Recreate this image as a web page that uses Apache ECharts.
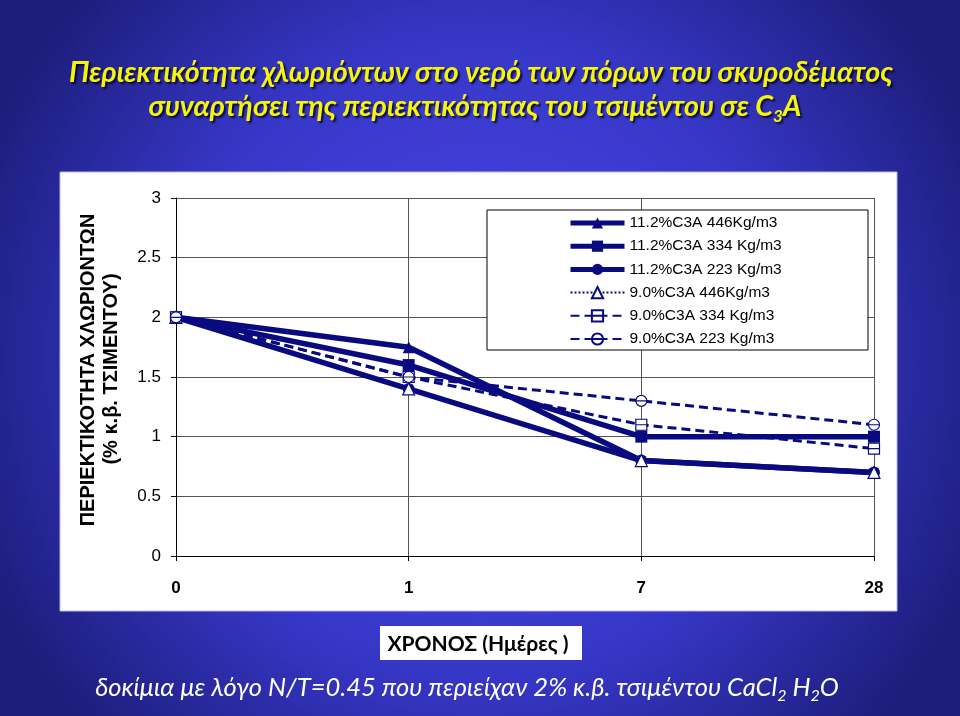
<!DOCTYPE html>
<html>
<head>
<meta charset="utf-8">
<script src="https://cdn.jsdelivr.net/npm/echarts@6/dist/echarts.min.js"></script>
<style>
html,body{margin:0;padding:0;background:#2b2bb0;}
#c{width:960px;height:716px;}
</style>
</head>
<body>
<div id="c"></div>
<script>
const categories = ['0', '1', '7', '28'];
const s112_446 = [2.0, 1.75, 0.8, 0.7];
const s112_334 = [2.0, 1.6, 1.0, 1.0];
const s112_223 = [2.0, 1.4, 0.8, 0.7];
const s90_446 = [2.0, 1.4, 0.8, 0.7];
const s90_334 = [2.0, 1.5, 1.1, 0.9];
const s90_223 = [2.0, 1.5, 1.3, 1.1];
const seriesNames = ['11.2%C3A 446Kg/m3', '11.2%C3A 334 Kg/m3', '11.2%C3A 223 Kg/m3',
  '9.0%C3A 446Kg/m3', '9.0%C3A 334 Kg/m3', '9.0%C3A 223 Kg/m3'];
const yTicks = { min: 0, max: 3, interval: 0.5 };

const navy = '#0a0a80';
const chart = echarts.init(document.getElementById('c'), null, { renderer: 'canvas' });

const sqLine = 'path://M0 0H10V10H0ZM0 5H10';
const circLine = 'path://M0 5A5 5 0 1 1 10 5A5 5 0 1 1 0 5ZM0 5H10';

function solid(name, data, symbol) {
  return {
    name, type: 'line', data, symbol, symbolSize: 12,
    lineStyle: { color: navy, width: 5.5 },
    itemStyle: { color: navy, borderColor: navy, borderWidth: 0 },
    z: 3
  };
}
function open(name, data, symbol, width, dash, size) {
  return {
    name, type: 'line', data, symbol, symbolSize: size,
    lineStyle: { color: navy, width, type: dash },
    itemStyle: { color: '#ffffff', borderColor: navy, borderWidth: 1.2 },
    z: 4
  };
}
const shadow = { textShadowColor: 'rgba(0,0,30,0.8)', textShadowOffsetX: 2, textShadowOffsetY: 2, textShadowBlur: 2 };

const option = {
  animation: false,
  graphic: [
    { type: 'rect', z: -10, silent: true, shape: { x: 0, y: 0, width: 960, height: 716 },
      style: { fill: { type: 'radial', x: 0.5, y: 0.5, r: 0.75,
        colorStops: [{ offset: 0, color: '#4a4aee' }, { offset: 0.6, color: '#3636c6' }, { offset: 1, color: '#1d1d7c' }] } } },
    { type: 'rect', z: -9, silent: true, shape: { x: 60, y: 172, width: 837, height: 439 },
      style: { fill: '#ffffff', stroke: '#b8b8e8', lineWidth: 1 } },
    { type: 'rect', z: 1, silent: true, shape: { x: 487, y: 210, width: 381, height: 140 },
      style: { fill: '#ffffff', stroke: '#000000', lineWidth: 1 } },
    { type: 'text', z: 5, x: 481, y: 73, style: Object.assign({
        text: 'Περιεκτικότητα χλωριόντων στο νερό των πόρων του σκυροδέματος',
        font: 'italic bold 28.7px Lato', fill: '#f4f40c', align: 'center', verticalAlign: 'middle' }, shadow) },
    { type: 'text', z: 5, x: 475, y: 107, style: Object.assign({
        text: '{a|συναρτήσει της περιεκτικότητας του τσιμέντου σε C}{s|3}{a|A}',
        fill: '#f4f40c', align: 'center', verticalAlign: 'middle',
        rich: {
          a: Object.assign({ fontFamily: 'Lato', fontStyle: 'italic', fontWeight: 'bold', fontSize: 28.7, lineHeight: 36, color: '#f4f40c' }, shadow),
          s: Object.assign({ fontFamily: 'Lato', fontStyle: 'italic', fontWeight: 'bold', fontSize: 17, lineHeight: 36, verticalAlign: 'bottom', color: '#f4f40c' }, shadow)
        } }, shadow) },
    { type: 'text', z: 5, x: 88, y: 370, rotation: Math.PI / 2, style: {
        text: 'ΠΕΡΙΕΚΤΙΚΟΤΗΤΑ ΧΛΩΡΙΟΝΤΩΝ', font: 'bold 20px Arial, "Liberation Sans"',
        fill: '#000000', align: 'center', verticalAlign: 'middle' } },
    { type: 'text', z: 5, x: 111, y: 369, rotation: Math.PI / 2, style: {
        text: '(% κ.β. ΤΣΙΜΕΝΤΟΥ)', font: 'bold 20px Arial, "Liberation Sans"',
        fill: '#000000', align: 'center', verticalAlign: 'middle' } },
    { type: 'rect', z: 5, silent: true, shape: { x: 380, y: 626, width: 202, height: 34 },
      style: { fill: '#ffffff' } },
    { type: 'text', z: 6, x: 478, y: 644, style: {
        text: 'ΧΡΟΝΟΣ (Ημέρες )', font: 'bold 21px Lato',
        fill: '#000000', align: 'center', verticalAlign: 'middle' } },
    { type: 'text', z: 5, x: 467, y: 688, style: {
        text: '{a|δοκίμια με λόγο Ν/Τ=0.45 που περιείχαν 2% κ.β. τσιμέντου CaCl}{s|2}{a| H}{s|2}{a|O}',
        fill: '#ffffff', align: 'center', verticalAlign: 'middle',
        rich: {
          a: { fontFamily: 'Lato', fontStyle: 'italic', fontSize: 25.5, lineHeight: 30, color: '#ffffff' },
          s: { fontFamily: 'Lato', fontStyle: 'italic', fontSize: 16, lineHeight: 32, verticalAlign: 'bottom', color: '#ffffff' }
        } } }
  ],
  legend: {
    orient: 'vertical', left: 568, top: 215, padding: 0,
    itemWidth: 54, itemHeight: 14, itemGap: 7.2,
    textStyle: { fontFamily: 'Arial, "Liberation Sans"', fontSize: 15.5, color: '#000000' },
    data: [
      { name: seriesNames[0], lineStyle: { width: 5 } },
      { name: seriesNames[1], lineStyle: { width: 5 } },
      { name: seriesNames[2], lineStyle: { width: 5 } },
      { name: seriesNames[3] },
      { name: seriesNames[4] },
      { name: seriesNames[5] }
    ]
  },
  grid: { left: 176, right: 86, top: 198, bottom: 160, containLabel: false },
  xAxis: {
    type: 'category', data: categories, boundaryGap: false,
    axisLine: { lineStyle: { color: '#000000', width: 1 } },
    axisTick: { show: true, inside: false, length: 5, lineStyle: { color: '#000000' } },
    axisLabel: { margin: 24, fontFamily: 'Arial, "Liberation Sans"', fontSize: 17, fontWeight: 'bold', color: '#000000' },
    splitLine: { show: true, lineStyle: { color: '#555555', width: 1 } }
  },
  yAxis: {
    type: 'value', min: yTicks.min, max: yTicks.max, interval: yTicks.interval,
    axisLine: { show: true, lineStyle: { color: '#000000', width: 1 } },
    axisTick: { show: true, inside: false, length: 5, lineStyle: { color: '#000000' } },
    axisLabel: { margin: 15, fontFamily: 'Arial, "Liberation Sans"', fontSize: 17, color: '#000000' },
    splitLine: { show: true, lineStyle: { color: '#555555', width: 1 } }
  },
  series: [
    solid(seriesNames[0], s112_446, 'triangle'),
    solid(seriesNames[1], s112_334, 'rect'),
    solid(seriesNames[2], s112_223, 'circle'),
    open(seriesNames[3], s90_446, 'triangle', 1, [2, 2], 12),
    open(seriesNames[4], s90_334, sqLine, 3, [9, 5], 11),
    open(seriesNames[5], s90_223, circLine, 3, [9, 5], 11)
  ]
};
chart.setOption(option);
</script>
</body>
</html>
